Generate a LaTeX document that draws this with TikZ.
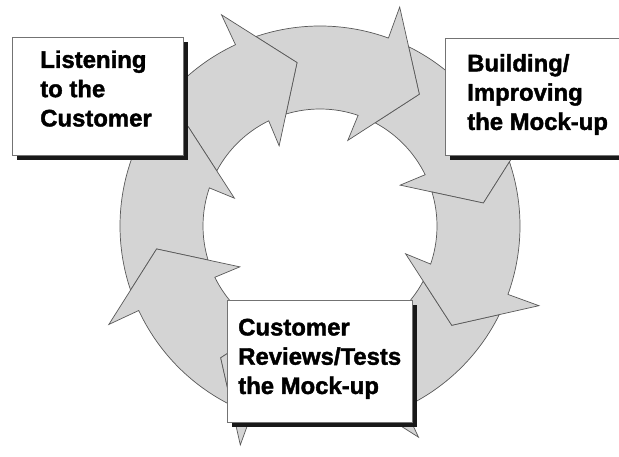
\documentclass[tikz,border=0pt]{standalone}
\usepackage{fontspec}
\setmainfont{Liberation Sans}[BoldFeatures = {FakeBold = 1.6}]
\usetikzlibrary{shadows}

\definecolor{ringgray}{RGB}{212,212,212}

\tikzset{
	ringarrow/.style = {fill = ringgray, draw = black!65, line width = 0.6pt, line join = miter},
	card/.style = {draw = black!55, fill = white, line width = 0.6pt, anchor = north west, inner sep = 0pt,
		drop shadow = {shadow xshift = 0.15cm, shadow yshift = -0.15cm, opacity = 1, fill = black!90}},
	cardtext/.style = {anchor = north west, align = left, inner sep = 0pt, font = \fontsize{20.4}{25}\selectfont\bfseries}
}

\begin{document}
\begin{tikzpicture}[x = 0.03cm, y = 0.03cm]
	 \useasboundingbox (0, 0) rectangle (619, 457);
	 
	 % eight curved arrows going round clockwise
	 \begin{scope}[shift = {(320, 231)}]
	 \foreach \t in {8, 53, ..., 323}
	 \filldraw[ringarrow] (\t+17:200) -- (\t+17:233) -- (\t:165) -- (\t+19:90) -- (\t+18:117)
		arc[start angle = \t+18, end angle = \t+53.9, radius = 117] -- (\t+45:165) -- (\t+55.7:200)
		arc[start angle = \t+55.7, end angle = \t+17, radius = 200] -- cycle;
	 \end{scope}
	 
	 \node[card, minimum width = 5.13cm, minimum height = 3.54cm] (listen) at (12, 420) {};
	 \node[card, minimum width = 5.31cm, minimum height = 3.51cm] (build) at (445, 419) {};
	 \node[card, minimum width = 5.55cm, minimum height = 3.66cm] (review) at (227, 157) {};
	 
	 \node[cardtext] (listentext) at ([shift = {(28, -13.3)}] listen.north west) {Listening\\to the\\Customer};
	 \node[cardtext] (buildtext) at ([shift = {(22, -15.8)}] build.north west) {Building/\\Improving\\the Mock-up};
	 \node[cardtext] (reviewtext) at ([shift = {(11, -18.5)}] review.north west) {Customer\\Reviews/Tests\\the Mock-up};
\end{tikzpicture}
\end{document}
